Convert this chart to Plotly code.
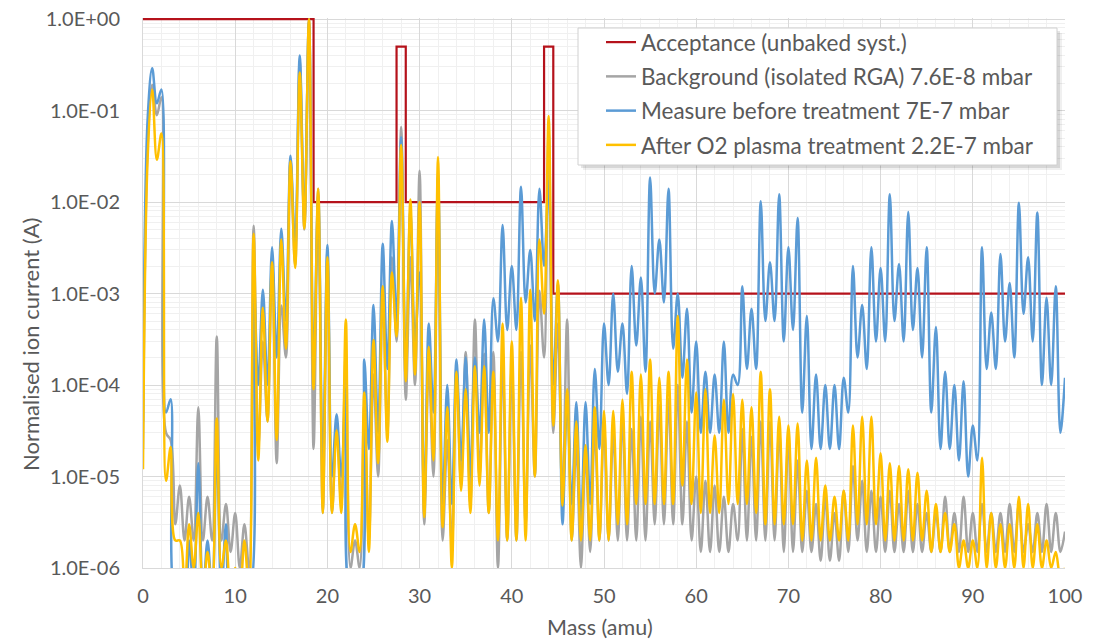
import plotly.graph_objects as go

# ---------------- data ----------------
masses = list(range(0, 101))          # amu, peak positions
# peak heights at integer masses 0..100
bg_peak = [2e-5, 0.19, 0.14, 2.5e-5, 8e-6, 6e-6, 5.7e-5, 6e-6, 3.4e-4, 5e-6,
           4e-6, 3e-6, 5.5e-3, 3e-4, 2.5e-3, 7.4e-4, 0.03, 0.35, 1.0, 0.014,
           3e-3, 4e-5, 2.3e-4, 2e-6, 6e-5, 1.3e-4, 1e-3, 2.5e-3, 0.066, 2.5e-3,
           0.022, 1.6e-4, 0.021, 2.5e-5, 1.6e-4, 2.3e-4, 5.2e-4, 2.2e-4, 2.3e-4, 2e-4,
           1.6e-4, 2.3e-4, 2.7e-4, 1.07e-3, 0.06, 4.7e-4, 5.2e-4, 2.2e-5, 1.8e-5, 3.3e-5,
           3.5e-5, 3e-5, 4.5e-5, 3.3e-5, 4.5e-5, 4e-5, 6e-5, 7e-5, 1e-4, 4e-5,
           1e-5, 9e-6, 8e-6, 6e-6, 5e-6, 3.3e-5, 2.7e-5, 4e-5, 4e-5, 3.3e-5,
           2.7e-5, 1.5e-5, 7e-6, 5e-6, 6e-6, 4e-6, 7e-6, 1.3e-5, 9e-6, 7e-6,
           6e-6, 7e-6, 5e-6, 7e-6, 5e-6, 4e-6, 4e-6, 6e-6, 4e-6, 6e-6,
           4e-6, 5e-6, 4e-6, 4e-6, 5e-6, 5e-6, 3e-6, 4e-6, 5e-6, 4e-6,
           2.5e-6]
before_peak = [4e-5, 0.29, 0.17, 7e-5, 5e-7, 2e-6, 1.4e-5, 2e-6, 2e-5, 3e-6,
               5e-7, 5e-7, 1.5e-3, 1.1e-3, 3.2e-3, 5.1e-3, 0.032, 0.40, 0.95, 0.012,
               3.4e-3, 4.8e-5, 9e-5, 5e-7, 1.9e-4, 7.5e-4, 3.5e-3, 6.2e-3, 0.051, 8.1e-3,
               1.7e-3, 4.7e-4, 0.019, 1e-4, 1.9e-4, 2e-4, 2e-4, 5.2e-4, 8.9e-4, 5.6e-3,
               2e-3, 0.0147, 3e-3, 0.014, 0.017, 1.3e-3, 6.9e-5, 6.5e-5, 6.5e-5, 1.5e-4,
               4.7e-4, 1e-3, 4.7e-4, 2e-3, 1.5e-3, 0.0186, 3.9e-3, 0.014, 1e-3, 6.8e-4,
               3e-4, 1.4e-4, 1.3e-4, 3e-4, 1.3e-4, 1.2e-3, 6.8e-4, 0.0102, 2.2e-3, 0.0122,
               3.2e-3, 6.7e-3, 5.7e-4, 1.3e-4, 1e-4, 1e-4, 1.2e-4, 2e-3, 7.5e-4, 3.2e-3,
               1.9e-3, 0.0122, 2.1e-3, 7.8e-3, 1.9e-3, 3.2e-3, 4.3e-4, 1.4e-4, 1e-4, 1.1e-4,
               3.6e-5, 3.2e-3, 6.2e-4, 2.7e-3, 1.3e-3, 9.8e-3, 2.5e-3, 7.7e-3, 9e-4, 1.2e-3,
               1.2e-4]
after_peak = [1.2e-5, 0.17, 0.056, 2.1e-5, 2e-6, 3e-6, 4e-6, 1.5e-6, 4.3e-5, 2e-6,
              1e-6, 2e-6, 4.5e-3, 7e-4, 2.2e-3, 3.9e-3, 0.028, 0.26, 1.0, 0.014,
              2.5e-3, 3.2e-5, 5.2e-4, 3e-6, 8.3e-5, 3.1e-4, 1.2e-3, 1.7e-3, 0.042, 0.0107,
              0.010, 2.6e-4, 0.031, 5.7e-5, 1.4e-4, 9e-5, 1.6e-4, 1.6e-4, 1.4e-4, 4.7e-4,
              3e-4, 9e-4, 1.1e-3, 3.9e-3, 0.087, 1.4e-3, 9e-5, 4e-5, 2.2e-5, 5.7e-5,
              5.2e-5, 5.2e-5, 6.9e-5, 1.4e-4, 1.3e-4, 1.9e-4, 1.2e-4, 1.4e-4, 5.7e-4, 1.9e-4,
              8.3e-5, 9e-5, 2.8e-5, 6.9e-5, 8e-5, 6.9e-5, 5.7e-5, 1.4e-4, 9e-5, 4.5e-5,
              3.6e-5, 3.8e-5, 1.5e-5, 1.6e-5, 8e-6, 6e-6, 7e-6, 3.6e-5, 4.5e-5, 4.5e-5,
              1.8e-5, 1.4e-5, 1.3e-5, 1.2e-5, 1.1e-5, 7e-6, 5e-6, 4e-6, 3e-6, 2e-6,
              2e-6, 1.6e-5, 4e-6, 3e-6, 3e-6, 6e-6, 5e-6, 3e-6, 2e-6, 1.5e-6,
              1e-6]
# minima between neighbouring masses (at m + 0.5, m = 0..99)
bg_valley = [0.04, 0.089, 3e-5, 3e-6, 2e-6, 2e-6, 2e-6, 2e-6, 2e-6, 1.5e-6,
             1e-6, 1e-6, 2e-5, 4e-5, 1.4e-5, 2e-4, 2e-3, 5e-3, 2e-5, 4e-6,
             4e-6, 5e-6, 1e-6, 1e-6, 2e-6, 1e-5, 3e-5, 3e-4, 6.9e-5, 1e-4,
             3e-6, 1e-5, 2e-6, 1.7e-6, 8e-6, 5e-6, 1e-5, 4e-6, 1e-6, 2e-6,
             2e-6, 3e-6, 1e-5, 2e-4, 3e-5, 5e-6, 2e-6, 1e-6, 1.5e-6, 2e-6,
             2e-6, 2e-6, 2e-6, 2e-6, 2e-6, 3e-6, 3e-6, 3e-6, 3e-6, 2e-6,
             1.5e-6, 1.5e-6, 1.5e-6, 1.5e-6, 2e-6, 2e-6, 2e-6, 2e-6, 2e-6, 1.5e-6,
             1.5e-6, 1.5e-6, 1.5e-6, 1.2e-6, 1.2e-6, 1.2e-6, 1.5e-6, 2e-6, 1.5e-6, 1.5e-6,
             1.5e-6, 1.5e-6, 1.5e-6, 1.5e-6, 1.5e-6, 1.5e-6, 1.5e-6, 1.5e-6, 1.5e-6, 1.5e-6,
             1.5e-6, 1.5e-6, 1.5e-6, 1.5e-6, 1.5e-6, 1.5e-6, 1.5e-6, 1.5e-6, 1.5e-6, 1.5e-6]
before_valley = [0.08, 0.12, 5e-5, 5e-7, 5e-7, 5e-7, 5e-7, 5e-7, 5e-7, 5e-7,
                 5e-7, 5e-7, 1e-4, 1e-4, 2e-4, 5e-4, 3e-3, 6e-3, 1.5e-4, 1e-5,
                 1e-5, 1e-5, 5e-7, 5e-7, 2e-5, 3e-5, 1.5e-4, 5e-4, 1.5e-4, 3e-4,
                 5e-6, 5e-5, 5e-6, 5e-6, 1.5e-5, 1e-5, 3e-5, 3e-5, 3e-4, 4e-4,
                 4e-4, 8e-4, 5e-4, 2e-3, 1e-4, 3e-6, 5e-6, 3e-6, 5e-6, 2e-5,
                 1e-4, 1.4e-4, 8e-5, 2.7e-4, 1.4e-4, 1e-3, 8e-4, 2.5e-4, 1.2e-4, 5e-5,
                 3e-5, 3e-5, 3e-5, 3e-5, 1e-4, 1.5e-4, 1.5e-4, 5e-4, 5e-4, 3e-4,
                 4e-4, 5e-5, 2e-5, 2e-5, 2e-5, 2e-5, 5e-5, 2e-4, 1.5e-4, 3e-4,
                 3e-4, 5e-4, 3e-4, 4e-4, 2e-4, 5e-5, 2e-5, 2e-5, 1.5e-5, 1e-5,
                 1.5e-5, 1.5e-4, 1.5e-4, 3e-4, 2e-4, 6e-4, 3e-4, 1e-4, 1e-4, 3e-5]
after_valley = [0.03, 0.029, 9e-6, 2e-6, 5e-7, 1e-6, 5e-7, 5e-7, 1e-6, 5e-7,
                5e-7, 5e-7, 1.5e-5, 4e-5, 2.5e-5, 2.5e-4, 1.9e-3, 5.1e-3, 9e-5, 4e-6,
                4e-6, 4e-6, 1.5e-6, 1.5e-6, 1.5e-6, 1.4e-5, 2.4e-5, 3.4e-4, 1.1e-4, 1.3e-4,
                3.6e-6, 1.5e-5, 2.8e-6, 1e-6, 7e-6, 4e-6, 8e-6, 4e-6, 2e-6, 2e-6,
                2e-6, 2e-6, 1e-5, 6e-4, 3.6e-5, 4.8e-6, 2e-6, 2e-6, 2e-6, 2e-6,
                2e-6, 3e-6, 3e-6, 5e-6, 5e-6, 5e-6, 5e-6, 5e-6, 8e-6, 5e-6,
                4e-6, 4e-6, 4e-6, 5e-6, 5e-6, 5e-6, 4e-6, 3e-6, 3e-6, 3e-6,
                3e-6, 2e-6, 2e-6, 2e-6, 2e-6, 2e-6, 2e-6, 3e-6, 3e-6, 3e-6,
                2e-6, 2e-6, 2e-6, 2e-6, 2e-6, 1.5e-6, 1.5e-6, 1.5e-6, 1e-6, 1e-6,
                1e-6, 1e-6, 1e-6, 1e-6, 1e-6, 1e-6, 1e-6, 1e-6, 1e-6, 8e-7]

# acceptance limit for an unbaked system (step outline)
acc_mass = [0, 18.5, 18.5, 27.5, 27.5, 28.5, 28.5, 43.5, 43.5, 44.5, 44.5, 100]
acc_level = [1.0, 1.0, 0.01, 0.01, 0.5, 0.5, 0.01, 0.01, 0.5, 0.5, 0.001, 0.001]

y_tick_vals = [1e0, 1e-1, 1e-2, 1e-3, 1e-4, 1e-5, 1e-6]
y_tick_text = ["1.0E+00", "1.0E-01", "1.0E-02", "1.0E-03", "1.0E-04", "1.0E-05", "1.0E-06"]
x_tick_vals = list(range(0, 101, 10))

names = ["Acceptance (unbaked syst.)",
         "Background (isolated RGA) 7.6E-8 mbar",
         "Measure before treatment 7E-7 mbar",
         "After O2 plasma treatment 2.2E-7 mbar"]
x_title = "Mass (amu)"
y_title = "Normalised ion current (A)"


def interleave(peaks, valleys):
    xs, ys = [], []
    for i, m in enumerate(masses):
        xs.append(m)
        ys.append(peaks[i])
        if i < len(valleys):
            xs.append(m + 0.5)
            ys.append(valleys[i])
    return xs, ys


FONT = "Lato, 'Open Sans', sans-serif"
TXT = "#595959"

# geometry in page pixels (body margin removed below)
L, T, W, H = 143, 18, 922, 550
PX0 = L
PY1 = T + H


def px_x(p):
    return (p - PX0) / W


def px_y(p):
    return (PY1 - p) / H


fig = go.Figure()
fig.add_trace(go.Scatter(x=acc_mass, y=acc_level, mode="lines", name=names[0],
                         legendgroup="a", line=dict(color="#B5121B", width=2.2)))
for nm, pk, vl, col, g in [(names[1], bg_peak, bg_valley, "#A5A5A5", "b"),
                           (names[2], before_peak, before_valley, "#5B9BD5", "c"),
                           (names[3], after_peak, after_valley, "#FFC000", "d")]:
    xs, ys = interleave(pk, vl)
    fig.add_trace(go.Scatter(x=xs, y=ys, mode="lines", name=nm, legendgroup=g,
                             line=dict(color=col, width=2.5, shape="spline", smoothing=1)))

minor_y = [k * 10.0 ** e for e in range(-6, 0) for k in range(2, 10)]

# legend frame with a soft shadow (drawn as shapes under the legend text)
shapes = []
for off, col in [(5, "rgba(0,0,0,0.06)"), (3, "rgba(0,0,0,0.10)")]:
    shapes.append(dict(type="rect", xref="paper", yref="paper", layer="above",
                       x0=px_x(578 + off), x1=px_x(1057 + off),
                       y0=px_y(165 + off), y1=px_y(28 + off),
                       line=dict(width=0), fillcolor=col))
shapes.append(dict(type="rect", xref="paper", yref="paper", layer="above",
                   x0=px_x(578), x1=px_x(1057), y0=px_y(165), y1=px_y(28),
                   line=dict(color="#D0D0D0", width=1), fillcolor="white"))

annotations = [
    dict(text=x_title, xref="paper", yref="paper", x=px_x(600), y=px_y(627),
         xanchor="center", yanchor="middle", showarrow=False,
         font=dict(family=FONT, size=21.5, color=TXT)),
    dict(text=y_title, xref="paper", yref="paper", x=px_x(31), y=px_y(345),
         xanchor="center", yanchor="middle", showarrow=False, textangle=-90,
         font=dict(family=FONT, size=22, color=TXT)),
]

fig.update_layout(
    width=1101, height=641,
    margin=dict(l=L, r=1101 - L - W, t=T, b=641 - T - H),
    paper_bgcolor="white", plot_bgcolor="white",
    font=dict(family=FONT, size=20, color=TXT),
    shapes=shapes, annotations=annotations,
    legend=dict(x=px_x(601), y=px_y(21), xanchor="left", yanchor="top",
                bgcolor="rgba(0,0,0,0)", borderwidth=0,
                font=dict(size=22.5, color=TXT), tracegroupgap=2,
                traceorder="grouped"),
    xaxis=dict(range=[0, 100], tickvals=x_tick_vals, showgrid=True,
               gridcolor="#D9D9D9", gridwidth=1, zeroline=False,
               showline=True, linecolor="#D9D9D9", ticks="", automargin=False,
               minor=dict(dtick=2, showgrid=True, gridcolor="#F0F0F0"),
               ticklabelstandoff=10,
               tickfont=dict(size=20, color=TXT)),
    yaxis=dict(type="log", range=[-6, 0.012], tickvals=y_tick_vals, ticktext=y_tick_text,
               showgrid=True, gridcolor="#D9D9D9", gridwidth=1, zeroline=False,
               showline=True, linecolor="#D9D9D9", ticks="", automargin=False,
               minor=dict(tickvals=minor_y, showgrid=True, gridcolor="#F0F0F0"),
               ticklabelstandoff=18,
               tickfont=dict(size=20, color=TXT)),
)

fig.write_html("out.html", config={"displayModeBar": False},
               post_script="document.body.style.margin='0px';")
